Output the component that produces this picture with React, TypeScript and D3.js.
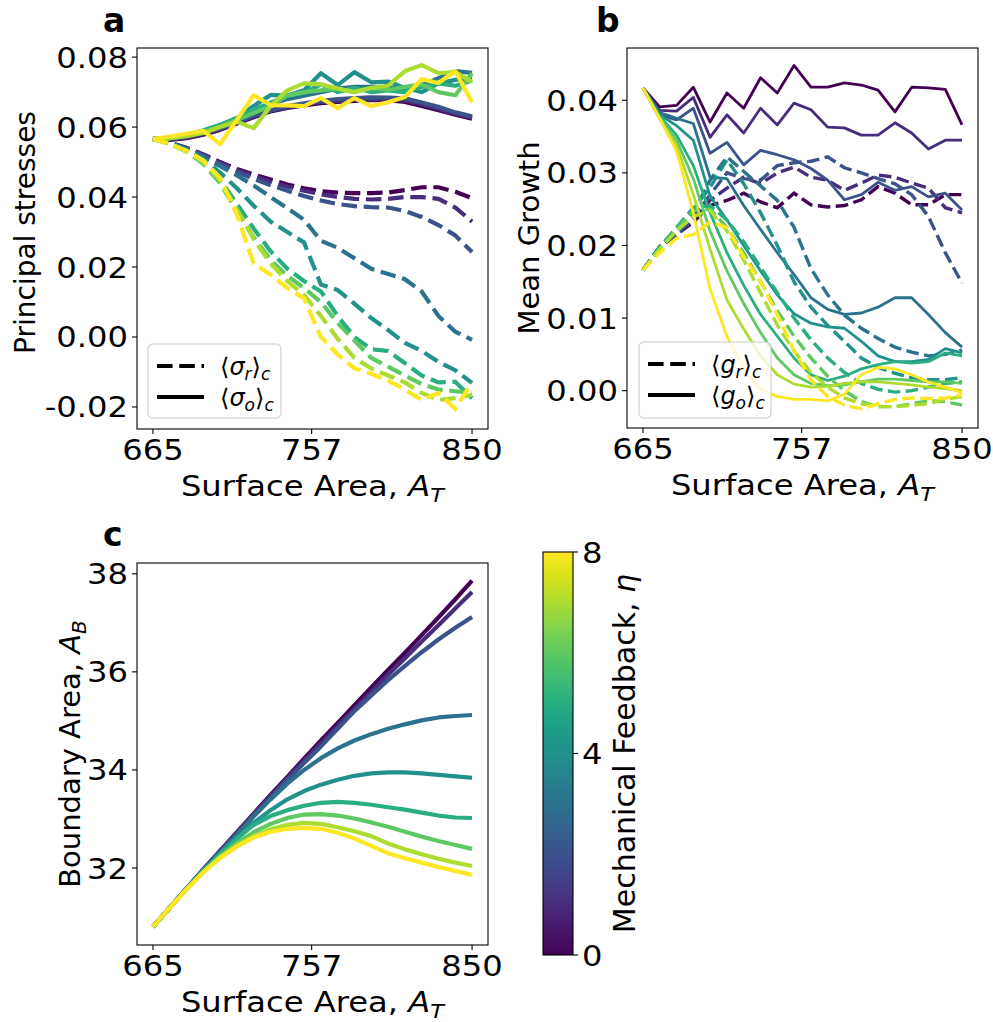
import React from "react";
import * as d3 from "d3";

// ---------- data ----------
const surfaceArea = [665, 674.7, 684.5, 694.2, 703.9, 713.7, 723.4, 733.2, 742.9, 752.6, 762.4, 772.1, 781.8, 791.6, 801.3, 811.1, 820.8, 830.5, 840.3, 850];
const etaValues = [0, 1, 2, 3, 4, 5, 6, 7, 8];

const xTicks = [665, 757, 850];
const aYTicks = [-0.02, 0, 0.02, 0.04, 0.06, 0.08];
const bYTicks = [0, 0.01, 0.02, 0.03, 0.04];
const cYTicks = [32, 34, 36, 38];
const cbarTicks = [0, 4, 8];

// panel a: <sigma_o>_c (solid)
const sigmaO = [
  [.0566, .0563, .0568, .0578, .0592, .0610, .0628, .0645, .0655, .0662, .0668, .0672, .0675, .0678, .0677, .0672, .0660, .0648, .0635, .0624],
  [.0566, .0565, .0570, .0580, .0594, .0612, .0630, .0646, .0657, .0665, .0671, .0675, .0678, .0680, .0679, .0676, .0665, .0652, .0638, .0627],
  [.0566, .0567, .0573, .0583, .0596, .0614, .0632, .0648, .0660, .0668, .0675, .0680, .0683, .0685, .0684, .0682, .0670, .0658, .0642, .0631],
  [.0566, .0568, .0575, .0587, .0602, .0620, .0645, .0665, .0680, .0690, .0700, .0710, .0715, .0715, .0712, .0710, .0720, .0740, .0760, .0755],
  [.0566, .0569, .0577, .0590, .0606, .0626, .0660, .0692, .0690, .0705, .0754, .0720, .0757, .0728, .0730, .0712, .0700, .0725, .0735, .0740],
  [.0566, .0569, .0577, .0590, .0606, .0625, .0650, .0670, .0690, .0698, .0722, .0700, .0712, .0700, .0705, .0700, .0715, .0725, .0718, .0733],
  [.0566, .0568, .0575, .0586, .0602, .0620, .0640, .0660, .0690, .0700, .0705, .0710, .0700, .0712, .0706, .0715, .0722, .0700, .0691, .0754],
  [.0566, .0568, .0574, .0583, .0600, .0615, .0597, .0660, .0705, .0725, .0722, .0710, .0700, .0712, .0718, .0760, .0777, .0754, .0757, .0729],
  [.0566, .0573, .0581, .0589, .0551, .0621, .0691, .0663, .0662, .0660, .0683, .0654, .0683, .0660, .0671, .0686, .0737, .0726, .0760, .0671],
];

// panel a: <sigma_r>_c (dashed)
const sigmaR = [
  [.0566, .0555, .0540, .0522, .0500, .0480, .0464, .0450, .0436, .0425, .0417, .0413, .0411, .0411, .0413, .0420, .0428, .0428, .0415, .0397],
  [.0566, .0555, .0540, .0521, .0498, .0477, .0460, .0444, .0430, .0418, .0408, .0400, .0395, .0393, .0395, .0400, .0400, .0395, .0370, .0330],
  [.0566, .0555, .0538, .0518, .0494, .0472, .0452, .0434, .0418, .0403, .0390, .0380, .0374, .0371, .0370, .0360, .0343, .0320, .0290, .0243],
  [.0566, .0555, .0537, .0514, .0488, .0462, .0433, .0400, .0368, .0335, .0275, .0255, .0225, .0195, .0180, .0165, .0130, .0060, .0015, -.0008],
  [.0566, .0554, .0535, .0508, .0470, .0425, .0375, .0330, .0300, .0270, .0150, .0134, .0095, .0054, .0020, -.0017, -.0040, -.0071, -.0095, -.0131],
  [.0566, .0553, .0532, .0500, .0450, .0380, .0310, .0245, .0195, .0160, .0130, .0060, .0000, -.0035, -.0040, -.0075, -.0110, -.0130, -.0128, -.0175],
  [.0566, .0552, .0530, .0495, .0440, .0360, .0285, .0220, .0175, .0140, .0100, .0040, -.0010, -.0060, -.0085, -.0110, -.0135, -.0150, -.0155, -.0160],
  [.0566, .0552, .0531, .0500, .0448, .0365, .0280, .0210, .0160, .0120, .0060, -.0005, -.0060, -.0090, -.0110, -.0130, -.0160, -.0180, -.0175, -.0165],
  [.0566, .0552, .0532, .0505, .0455, .0350, .0210, .0178, .0140, .0110, .0000, -.0050, -.0090, -.0105, -.0125, -.0150, -.0180, -.0160, -.0205, -.0130],
];

// panel b: <g_o>_c (solid)
const growthO = [
  [.0417, .0391, .0393, .0418, .0370, .0410, .0389, .0431, .0410, .0448, .0418, .0418, .0424, .0421, .0414, .0384, .0418, .0417, .0415, .0366],
  [.0417, .0386, .0385, .0404, .0349, .0380, .0355, .0389, .0366, .0396, .0387, .0363, .0362, .0352, .0352, .0369, .0355, .0333, .0345, .0345],
  [.0417, .0380, .0373, .0389, .0327, .0342, .0311, .0331, .0325, .0318, .0306, .0290, .0263, .0270, .0287, .0276, .0281, .0267, .0272, .0249],
  [.0417, .0383, .0375, .0368, .0294, .0292, .0255, .0222, .0190, .0160, .0128, .0112, .0105, .0107, .0115, .0128, .0128, .0105, .0080, .0060],
  [.0417, .0380, .0365, .0345, .0268, .0235, .0200, .0165, .0132, .0106, .0093, .0088, .0086, .0068, .0048, .0040, .0040, .0043, .0058, .0052],
  [.0417, .0378, .0352, .0310, .0245, .0190, .0145, .0105, .0075, .0045, .0022, .0014, .0020, .0030, .0036, .0040, .0038, .0040, .0052, .0048],
  [.0417, .0376, .0345, .0292, .0220, .0165, .0120, .0080, .0045, .0022, .0010, .0007, .0008, .0012, .0016, .0016, .0014, .0012, .0012, .0010],
  [.0417, .0374, .0338, .0270, .0195, .0125, .0085, .0048, .0022, .0009, .0005, .0006, .0010, .0012, .0012, .0010, .0008, .0005, .0003, .0000],
  [.0417, .0375, .0330, .0245, .0140, .0075, .0030, .0002, -.0008, -.0012, -.0012, -.0014, -.0005, .0022, .0032, .0030, .0022, .0012, .0005, -.0003],
];

// panel b: <g_r>_c (dashed)
const growthR = [
  [.0166, .0198, .0215, .0232, .0255, .0262, .0272, .0260, .0252, .0272, .0256, .0253, .0255, .0263, .0281, .0272, .0256, .0256, .0270, .0270],
  [.0166, .0198, .0215, .0235, .0262, .0279, .0294, .0285, .0300, .0308, .0294, .0290, .0276, .0286, .0297, .0294, .0286, .0279, .0252, .0245],
  [.0166, .0198, .0215, .0238, .0270, .0300, .0292, .0290, .0310, .0314, .0316, .0322, .0307, .0300, .0292, .0285, .0270, .0240, .0190, .0148],
  [.0166, .0198, .0218, .0245, .0290, .0322, .0302, .0282, .0262, .0225, .0168, .0132, .0104, .0086, .0072, .0060, .0053, .0048, .0050, .0056],
  [.0166, .0198, .0220, .0250, .0280, .0318, .0285, .0245, .0200, .0150, .0115, .0090, .0068, .0045, .0032, .0024, .0018, .0015, .0015, .0018],
  [.0166, .0198, .0225, .0252, .0255, .0235, .0205, .0170, .0135, .0100, .0070, .0045, .0025, .0010, .0002, -.0002, .0000, .0005, .0010, .0012],
  [.0166, .0196, .0222, .0248, .0250, .0225, .0190, .0150, .0110, .0075, .0045, .0020, .0000, -.0015, -.0022, -.0022, -.0018, -.0014, -.0015, -.0020],
  [.0166, .0195, .0220, .0240, .0248, .0220, .0180, .0135, .0090, .0055, .0025, .0005, -.0010, -.0018, -.0022, -.0022, -.0020, -.0018, -.0012, -.0008],
  [.0166, .0190, .0210, .0215, .0232, .0225, .0185, .0150, .0105, .0055, .0015, -.0008, -.0020, -.0025, -.0018, -.0012, -.0010, -.0011, -.0010, -.0006],
];

// panel c: boundary area A_B
const boundaryArea = [
  [30.80, 31.19, 31.58, 31.97, 32.35, 32.73, 33.11, 33.49, 33.86, 34.23, 34.60, 34.96, 35.32, 35.68, 36.04, 36.39, 36.75, 37.11, 37.48, 37.86],
  [30.80, 31.19, 31.58, 31.97, 32.35, 32.72, 33.10, 33.47, 33.83, 34.19, 34.54, 34.89, 35.24, 35.59, 35.94, 36.28, 36.62, 36.95, 37.29, 37.63],
  [30.80, 31.19, 31.58, 31.96, 32.33, 32.70, 33.07, 33.43, 33.79, 34.14, 34.48, 34.84, 35.20, 35.52, 35.83, 36.12, 36.40, 36.66, 36.90, 37.12],
  [30.80, 31.19, 31.58, 31.96, 32.32, 32.67, 33.05, 33.40, 33.72, 34.00, 34.24, 34.44, 34.60, 34.73, 34.84, 34.93, 35.01, 35.07, 35.10, 35.12],
  [30.80, 31.19, 31.58, 31.95, 32.30, 32.62, 32.92, 33.18, 33.40, 33.57, 33.70, 33.80, 33.88, 33.93, 33.95, 33.95, 33.93, 33.90, 33.87, 33.84],
  [30.80, 31.19, 31.58, 31.94, 32.27, 32.60, 32.88, 33.06, 33.18, 33.27, 33.33, 33.35, 33.33, 33.29, 33.24, 33.19, 33.13, 33.07, 33.03, 33.02],
  [30.80, 31.19, 31.57, 31.93, 32.24, 32.51, 32.73, 32.90, 33.02, 33.09, 33.10, 33.07, 33.01, 32.93, 32.84, 32.74, 32.64, 32.55, 32.47, 32.39],
  [30.80, 31.19, 31.57, 31.92, 32.22, 32.46, 32.65, 32.79, 32.88, 32.92, 32.90, 32.83, 32.75, 32.65, 32.50, 32.38, 32.28, 32.19, 32.11, 32.04],
  [30.80, 31.19, 31.56, 31.91, 32.20, 32.44, 32.62, 32.74, 32.80, 32.82, 32.80, 32.72, 32.60, 32.45, 32.30, 32.20, 32.11, 32.02, 31.94, 31.86],
];

// ---------- layout ----------
const W = 993;
const H = 1022;
const FONT = "DejaVu Sans, sans-serif";
const TICK_FS = 29;
const LABEL_FS = 29;
const SX = 1.11; // horizontal widening of horizontal texts

const color = (eta: number) => d3.interpolateViridis(eta / 8);

type Box = { left: number; right: number; top: number; bottom: number };
const boxA: Box = { left: 137, right: 488, top: 48, bottom: 429 };
const boxB: Box = { left: 627, right: 978, top: 48, bottom: 428 };
const boxC: Box = { left: 137, right: 488, top: 563, bottom: 945 };

const xDomain: [number, number] = [655.75, 859.25];

function HText({ x, y, anchor = "start", size = TICK_FS, children }: any) {
  return (
    <text transform={`translate(${x},${y}) scale(${SX},1)`} textAnchor={anchor} fontSize={size} fontFamily={FONT}>
      {children}
    </text>
  );
}

function Axes({ box, yScale, yTicks, fmt }: any) {
  const x = d3.scaleLinear().domain(xDomain).range([box.left, box.right]);
  return (
    <g>
      <rect x={box.left} y={box.top} width={box.right - box.left} height={box.bottom - box.top} fill="none" stroke="#000" strokeWidth={1.1} />
      {xTicks.map((t) => (
        <g key={"x" + t}>
          <line x1={x(t)} x2={x(t)} y1={box.bottom} y2={box.bottom + 5} stroke="#000" strokeWidth={1.1} />
          <HText x={x(t)} y={box.bottom + 31} anchor="middle">{t}</HText>
        </g>
      ))}
      {yTicks.map((t: number) => (
        <g key={"y" + t}>
          <line x1={box.left - 5} x2={box.left} y1={yScale(t)} y2={yScale(t)} stroke="#000" strokeWidth={1.1} />
          <HText x={box.left - 9} y={yScale(t) + 10.5} anchor="end">{fmt(t)}</HText>
        </g>
      ))}
      <HText x={(box.left + box.right) / 2} y={box.bottom + 67} anchor="middle" size={LABEL_FS}>
        Surface Area, <tspan fontStyle="italic">A</tspan>
        <tspan fontStyle="italic" fontSize={LABEL_FS * 0.7} dy={6}>T</tspan>
      </HText>
    </g>
  );
}

function Legend({ x, y, w, h, r, lw }: any) {
  return (
    <g>
      <rect x={x} y={y} width={w} height={h} rx={5} fill="#fff" fillOpacity={0.8} stroke="#ccc" strokeWidth={1.1} />
      <line x1={x + 9} x2={x + 56} y1={y + 22} y2={y + 22} stroke="#000" strokeWidth={lw} strokeDasharray={`${3.7 * lw},${1.6 * lw}`} />
      <line x1={x + 9} x2={x + 56} y1={y + 53} y2={y + 53} stroke="#000" strokeWidth={lw} />
      <text x={x + 72} y={y + 31} fontSize={24} fontFamily={FONT}>
        ⟨<tspan fontStyle="italic">{r}</tspan>
        <tspan fontStyle="italic" fontSize={17} dy={5}>r</tspan>
        <tspan dy={-5}>⟩</tspan>
        <tspan fontStyle="italic" fontSize={17} dy={5}>c</tspan>
      </text>
      <text x={x + 72} y={y + 62} fontSize={24} fontFamily={FONT}>
        ⟨<tspan fontStyle="italic">{r}</tspan>
        <tspan fontStyle="italic" fontSize={17} dy={5}>o</tspan>
        <tspan dy={-5}>⟩</tspan>
        <tspan fontStyle="italic" fontSize={17} dy={5}>c</tspan>
      </text>
    </g>
  );
}

export default function App() {
  const xA = d3.scaleLinear().domain(xDomain).range([boxA.left, boxA.right]);
  const xB = d3.scaleLinear().domain(xDomain).range([boxB.left, boxB.right]);
  const xC = d3.scaleLinear().domain(xDomain).range([boxC.left, boxC.right]);
  const yA = d3.scaleLinear().domain([-0.0263, 0.0826]).range([boxA.bottom, boxA.top]);
  const yB = d3.scaleLinear().domain([-0.00514, 0.0472]).range([boxB.bottom, boxB.top]);
  const yC = d3.scaleLinear().domain([30.43, 38.22]).range([boxC.bottom, boxC.top]);

  const mk = (xs: any, ys: any) =>
    d3.line<number>().x((_, i) => xs(surfaceArea[i])).y((d) => ys(d));
  const lineA = mk(xA, yA);
  const lineB = mk(xB, yB);
  const lineC = mk(xC, yC);

  const lwA = 4.2;
  const lwBs = 2.8;
  const lwBd = 3.4;
  const lwC = 4.2;

  const cb = { left: 543, right: 573, top: 552, bottom: 955 };
  const cbScale = d3.scaleLinear().domain([0, 8]).range([cb.bottom, cb.top]);
  const stops = d3.range(0, 1.0001, 0.05);

  const fmt2 = (v: number) => (v < 0 ? "-" : "") + Math.abs(v).toFixed(2);

  return (
    <svg width={W} height={H} style={{ position: "absolute", left: 0, top: 0, background: "#fff" }}>
      <defs>
        <linearGradient id="vir" x1="0" y1="1" x2="0" y2="0">
          {stops.map((s) => (
            <stop key={s} offset={s} stopColor={d3.interpolateViridis(s)} />
          ))}
        </linearGradient>
        <clipPath id="clipA"><rect x={boxA.left} y={boxA.top} width={boxA.right - boxA.left} height={boxA.bottom - boxA.top} /></clipPath>
        <clipPath id="clipB"><rect x={boxB.left} y={boxB.top} width={boxB.right - boxB.left} height={boxB.bottom - boxB.top} /></clipPath>
      </defs>
      <rect width={W} height={H} fill="#fff" />

      {/* Panel a */}
      <g clipPath="url(#clipA)">
        {etaValues.map((eta) => (
          <g key={"a" + eta}>
            <path d={lineA(sigmaR[eta]) || ""} fill="none" stroke={color(eta)} strokeWidth={lwA} strokeDasharray={`${3.7 * lwA},${1.6 * lwA}`} />
            <path d={lineA(sigmaO[eta]) || ""} fill="none" stroke={color(eta)} strokeWidth={lwA} strokeLinejoin="round" />
          </g>
        ))}
      </g>
      <Axes box={boxA} yScale={yA} yTicks={aYTicks} fmt={fmt2} />
      <Legend x={148} y={344} w={133} h={74} r="σ" lw={4.2} />
      <text transform={`translate(35,${(boxA.top + boxA.bottom) / 2 - 6}) rotate(-90)`} textAnchor="middle" fontSize={28} fontFamily={FONT}>Principal stresses</text>
      <text x={103} y={32} fontSize={33} fontWeight="bold" fontFamily={FONT}>a</text>

      {/* Panel b */}
      <g clipPath="url(#clipB)">
        {etaValues.map((eta) => (
          <g key={"b" + eta}>
            <path d={lineB(growthR[eta]) || ""} fill="none" stroke={color(eta)} strokeWidth={lwBd} strokeDasharray={`${3.7 * lwBd},${1.6 * lwBd}`} />
            <path d={lineB(growthO[eta]) || ""} fill="none" stroke={color(eta)} strokeWidth={lwBs} strokeLinejoin="round" />
          </g>
        ))}
      </g>
      <Axes box={boxB} yScale={yB} yTicks={bYTicks} fmt={fmt2} />
      <Legend x={639} y={342} w={132} h={76} r="g" lw={4.2} />
      <text transform={`translate(539,${(boxB.top + boxB.bottom) / 2}) rotate(-90)`} textAnchor="middle" fontSize={29} fontFamily={FONT}>Mean Growth</text>
      <text x={596} y={32} fontSize={33} fontWeight="bold" fontFamily={FONT}>b</text>

      {/* Panel c */}
      <g>
        {etaValues.map((eta) => (
          <path key={"c" + eta} d={lineC(boundaryArea[eta]) || ""} fill="none" stroke={color(eta)} strokeWidth={lwC} strokeLinejoin="round" />
        ))}
      </g>
      <Axes box={boxC} yScale={yC} yTicks={cYTicks} fmt={(v: number) => String(v)} />
      <text transform={`translate(80,${(boxC.top + boxC.bottom) / 2}) rotate(-90)`} textAnchor="middle" fontSize={29} fontFamily={FONT}>
        Boundary Area, <tspan fontStyle="italic">A</tspan>
        <tspan fontStyle="italic" fontSize={20} dy={6}>B</tspan>
      </text>
      <text x={103} y={546} fontSize={33} fontWeight="bold" fontFamily={FONT}>c</text>

      {/* Colorbar */}
      <rect x={cb.left} y={cb.top} width={cb.right - cb.left} height={cb.bottom - cb.top} fill="url(#vir)" stroke="#000" strokeWidth={1.1} />
      {cbarTicks.map((t) => (
        <g key={"cb" + t}>
          <line x1={cb.right} x2={cb.right + 5} y1={cbScale(t)} y2={cbScale(t)} stroke="#000" strokeWidth={1.1} />
          <HText x={cb.right + 9} y={cbScale(t) + 10.5}>{t}</HText>
        </g>
      ))}
      <text transform={`translate(635,${(cb.top + cb.bottom) / 2}) rotate(-90)`} textAnchor="middle" fontSize={30} fontFamily={FONT}>
        Mechanical Feedback, <tspan fontStyle="italic">η</tspan>
      </text>
    </svg>
  );
}
